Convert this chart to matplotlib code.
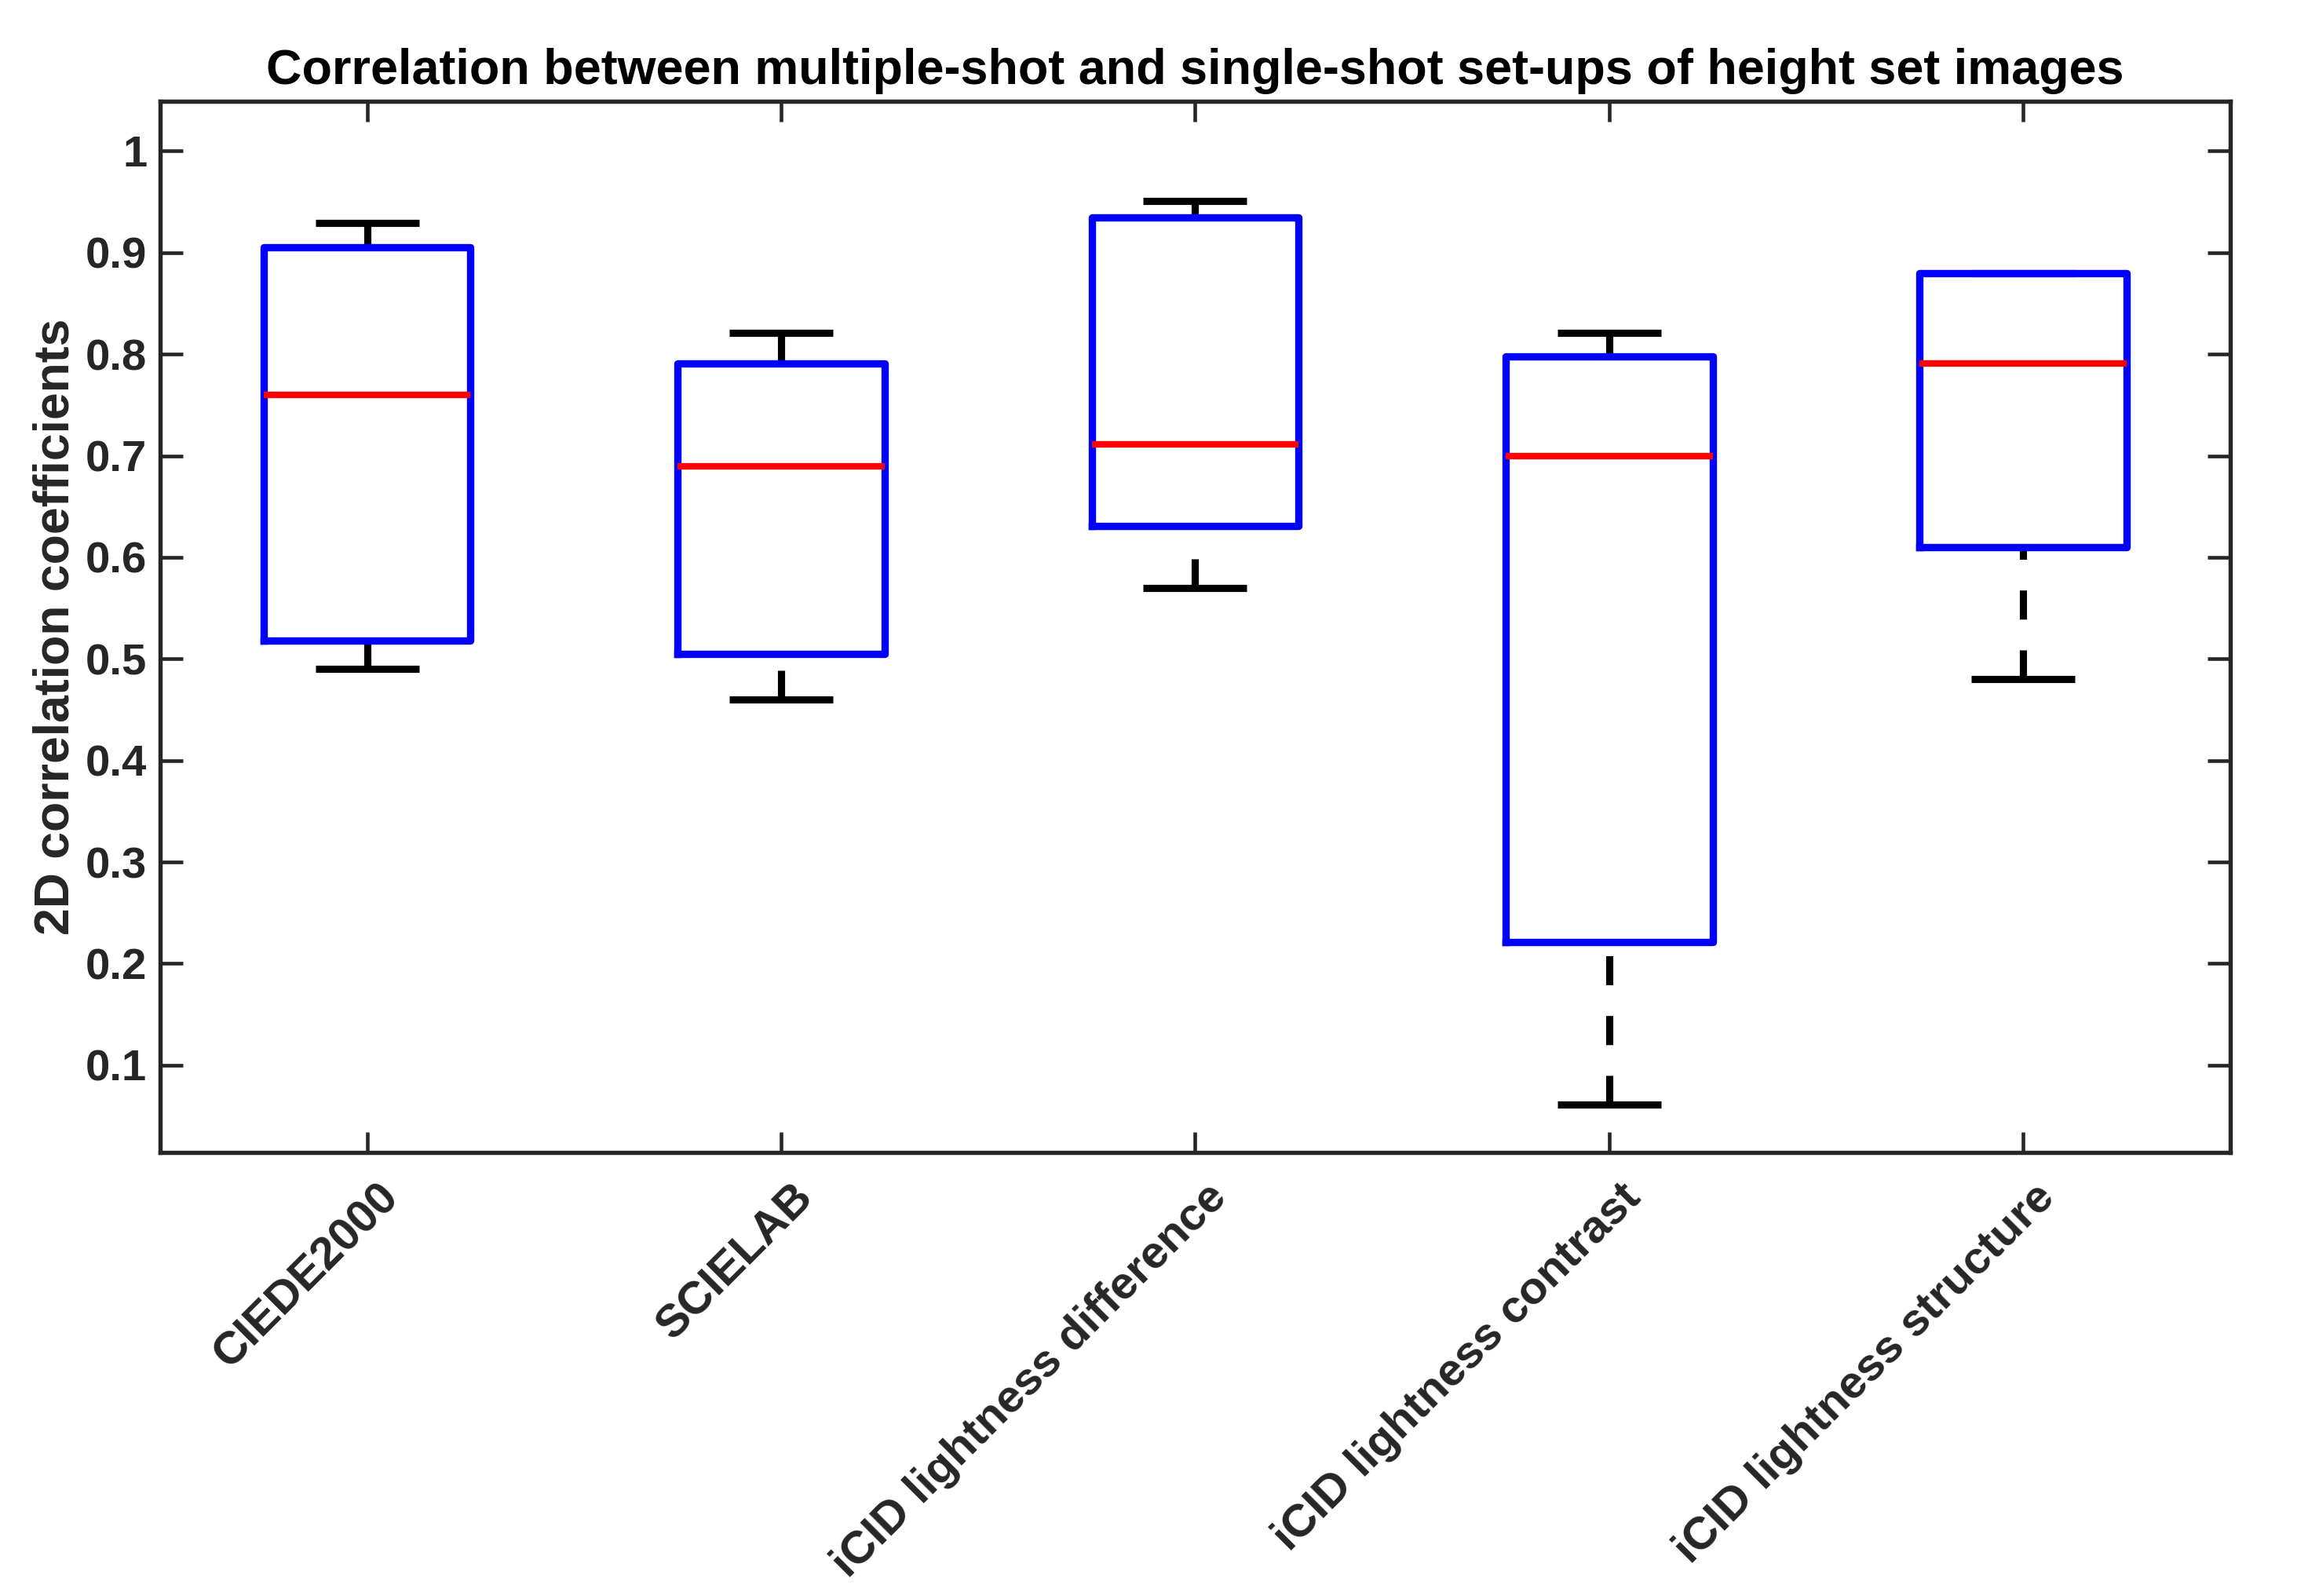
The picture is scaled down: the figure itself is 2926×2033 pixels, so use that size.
import matplotlib
matplotlib.use("Agg")
import matplotlib.pyplot as plt
import matplotlib.transforms as mtransforms

# ---------------- data ----------------
categories = ["CIEDE2000", "SCIELAB", "iCID lightness difference",
              "iCID lightness contrast", "iCID lightness structure"]
whisker_low = [0.490, 0.460, 0.570, 0.061, 0.480]
q1_values = [0.518, 0.505, 0.631, 0.221, 0.610]
medians = [0.760, 0.690, 0.711, 0.700, 0.791]
q3_values = [0.905, 0.791, 0.935, 0.798, 0.880]
whisker_high = [0.929, 0.821, 0.951, 0.821, 0.880]
ytick_values = [0.1, 0.2, 0.3, 0.4, 0.5, 0.6, 0.7, 0.8, 0.9, 1.0]
ytick_labels = ["0.1", "0.2", "0.3", "0.4", "0.5", "0.6", "0.7", "0.8", "0.9", "1"]
title_text = "Correlation between multiple-shot and single-shot set-ups of height set images"
ylabel_text = "2D correlation coefficients"

# ---------------- style ----------------
plt.rcParams['font.family'] = ['Liberation Sans', 'DejaVu Sans']
plt.rcParams['font.weight'] = 'bold'
plt.rcParams['lines.scale_dashes'] = False
axis_color = "#262626"

fig = plt.figure(figsize=(2926 / 300, 2033 / 300), dpi=300)
ax = fig.add_axes([0.0697, 0.2779, 0.9709 - 0.0697, 0.9365 - 0.2779])

stats = []
for lab, lo, a, m, b, hi in zip(categories, whisker_low, q1_values, medians,
                                 q3_values, whisker_high):
    stats.append(dict(label=lab, whislo=lo, q1=a, med=m, q3=b, whishi=hi, fliers=[]))

positions = list(range(1, len(categories) + 1))
res = ax.bxp(stats, positions=positions, widths=0.5, showfliers=False,
             boxprops=dict(color="#0000ff", linewidth=2.25),
             medianprops=dict(color="#ff0000", linewidth=2.0, solid_capstyle='butt'),
             whiskerprops=dict(color="black", linewidth=2.2,
                               linestyle=(0, (8.9, 9.4))),
             capprops=dict(color="black", linewidth=2.2, solid_capstyle='butt'),
             capwidths=0.25)

# dash pattern starts at the whisker end (cap), like the reference
for w in res['whiskers']:
    xd, yd = w.get_data()
    w.set_data(list(xd)[::-1], list(yd)[::-1])
    w.set_zorder(2)
for c in res['caps']:
    c.set_zorder(2)
for b in res['boxes']:
    b.set_zorder(3)
for md in res['medians']:
    md.set_zorder(4)

ax.set_xlim(0.5, len(categories) + 0.5)
ax.set_ylim(0.014, 1.049)
ax.set_yticks(ytick_values)
ax.set_yticklabels(ytick_labels)
ax.set_xticks(positions)
ax.set_xticklabels(categories)

for sp in ax.spines.values():
    sp.set_color(axis_color)
    sp.set_linewidth(1.3)

ax.tick_params(axis='y', direction='in', length=7, width=1.1, colors=axis_color,
               labelsize=13.5, pad=4, left=True, right=True)
ax.tick_params(axis='x', direction='in', length=6.3, width=1.1, colors=axis_color,
               labelsize=14, pad=4, bottom=True, top=True)
for t in ax.get_yticklabels():
    t.set_fontweight('bold')
offset = mtransforms.ScaledTranslation(3.1 / 72, -3.1 / 72, fig.dpi_scale_trans)
for t in ax.get_xticklabels():
    t.set_fontweight('bold')
    t.set_rotation(45)
    t.set_ha('right')
    t.set_va('top')
    t.set_rotation_mode('anchor')
    t.set_transform(t.get_transform() + offset)

ax.set_ylabel(ylabel_text, fontsize=15, fontweight='bold', color=axis_color, labelpad=2)
ax.set_title(title_text, fontsize=15.1, fontweight='bold', color='black', pad=5.3)

fig.savefig("out.png", dpi=300, facecolor='white')
